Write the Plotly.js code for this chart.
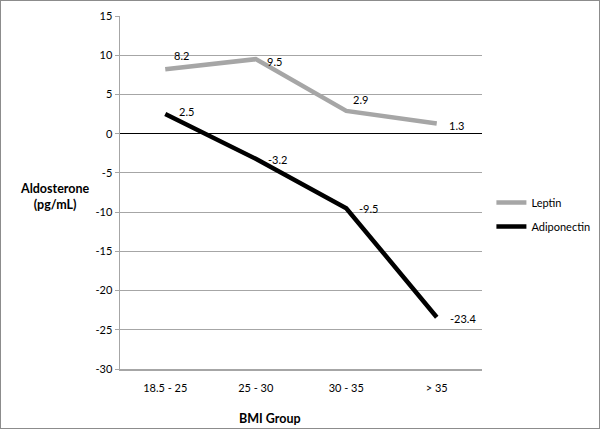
<!DOCTYPE html>
<html>
<head>
<meta charset="utf-8">
<script src="https://cdn.plot.ly/plotly-3.0.1.min.js"></script>
<style>
  html, body { margin: 0; padding: 0; background: #fff; }
  #frame { position: absolute; left: 0; top: 0; width: 600px; height: 429px;
           border: 1px solid #8c8c8c; box-sizing: border-box; }
  #chart { width: 598px; height: 427px; }
</style>
</head>
<body>
<div id="frame"><div id="chart"></div></div>
<script>
// ---- data ----
const categories = ["18.5 - 25", "25 - 30", "30 - 35", "> 35"];
const leptin = [8.2, 9.5, 2.9, 1.3];
const adiponectin = [2.5, -3.2, -9.5, -23.4];
const seriesNames = ["Leptin", "Adiponectin"];
const yTicks = [15, 10, 5, 0, -5, -10, -15, -20, -25, -30];

// ---- label placement (style only, pixels) ----
const leptinLabelShift = [[7, 14], [9, -2], [5, 11], [10, -2]];
const adipoLabelShift = [[12, 3], [10, -1], [11, 0], [11, -1]];

const FONT = "Lato, 'Open Sans', sans-serif";

const traces = [
  { x: categories, y: leptin, name: seriesNames[0], type: "scatter", mode: "lines",
    legendgroup: "a", line: { color: "#a6a6a6", width: 4.5 } },
  { x: categories, y: adiponectin, name: seriesNames[1], type: "scatter", mode: "lines",
    legendgroup: "b", line: { color: "#000000", width: 4.5 } }
];

const annotations = [];
function addLabels(vals, shifts) {
  vals.forEach((v, i) => {
    annotations.push({
      x: categories[i], y: v, xref: "x", yref: "y",
      text: String(v), showarrow: false, xanchor: "left", yanchor: "middle",
      xshift: shifts[i][0], yshift: shifts[i][1],
      font: { family: FONT, size: 11, color: "#000" }
    });
  });
}
addLabels(leptin, leptinLabelShift);
addLabels(adiponectin, adipoLabelShift);

// axis titles (placed like the original)
annotations.push({
  text: "<b>Aldosterone<br>(pg/mL)</b>", xref: "paper", yref: "paper",
  x: -0.18, y: 0.49, xanchor: "center", yanchor: "middle", showarrow: false,
  align: "center", font: { family: FONT, size: 12.5, color: "#000" }
});
annotations.push({
  text: "<b>BMI Group</b>", xref: "paper", yref: "paper",
  x: 0.414, y: -0.14, xanchor: "center", yanchor: "middle", showarrow: false,
  font: { family: FONT, size: 12.5, color: "#000" }
});

const layout = {
  width: 598, height: 427,
  margin: { l: 119, r: 117, t: 15, b: 59, autoexpand: false },
  paper_bgcolor: "#fff", plot_bgcolor: "#fff",
  showlegend: true,
  legend: { x: 1.026, y: 0.438, xanchor: "left", yanchor: "middle",
            font: { family: FONT, size: 11, color: "#000" },
            tracegroupgap: 5, itemwidth: 30, bgcolor: "rgba(0,0,0,0)" },
  xaxis: {
    type: "category", categoryorder: "array", categoryarray: categories,
    range: [-0.5, 3.5], showgrid: false, zeroline: false,
    showline: true, linecolor: "#a6a6a6", linewidth: 1.5,
    ticks: "", tickfont: { family: FONT, size: 11, color: "#000" },
    ticklabelstandoff: 8, fixedrange: true, automargin: false
  },
  yaxis: {
    range: [-30, 15], tickvals: yTicks, ticktext: yTicks.map(String),
    showgrid: true, gridcolor: "#a6a6a6", gridwidth: 1.2,
    zeroline: true, zerolinecolor: "#000", zerolinewidth: 1.6,
    showline: true, linecolor: "#a6a6a6", linewidth: 1.5,
    ticks: "outside", ticklen: 4, tickcolor: "#a6a6a6", tickwidth: 1,
    tickfont: { family: FONT, size: 11, color: "#000" }, fixedrange: true, automargin: false
  },
  annotations: annotations
};

Plotly.newPlot("chart", traces, layout, { displayModeBar: false, staticPlot: true });
</script>
</body>
</html>
